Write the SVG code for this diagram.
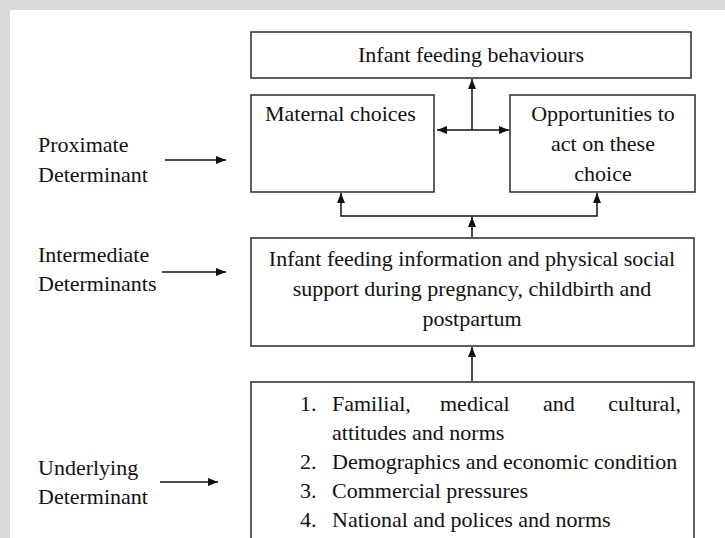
<svg xmlns="http://www.w3.org/2000/svg" width="725" height="538" viewBox="0 0 725 538">
<style>
.bg{fill:#ffffff}
.strip{fill:#d9d9d9}
.box{fill:#ffffff;stroke:#2a2a2a;stroke-width:1.5}
.t{font-family:"Liberation Serif","Times New Roman",serif;font-size:22px;fill:#111}
.c{text-anchor:middle}
.e{text-anchor:end}
.ln{stroke:#111;stroke-width:1.5;fill:none}
</style>
<defs>
<marker id="ah" viewBox="0 0 10 10" refX="10" refY="5" markerWidth="10" markerHeight="10" markerUnits="userSpaceOnUse" orient="auto-start-reverse">
<path d="M0,1 L10,5 L0,9 Z" fill="#111"/>
</marker>
</defs>
<rect class="bg" x="0" y="0" width="725" height="538"/>
<rect class="strip" x="0" y="0" width="725" height="10"/>
<rect class="strip" x="0" y="0" width="10" height="538"/>

<g id="label-proximate">
<text class="t" x="38" y="152">Proximate</text>
<text class="t" x="38" y="182">Determinant</text>
</g>
<g id="label-intermediate">
<text class="t" x="38" y="262">Intermediate</text>
<text class="t" x="38" y="291">Determinants</text>
</g>
<g id="label-underlying">
<text class="t" x="38" y="475">Underlying</text>
<text class="t" x="38" y="504">Determinant</text>
</g>

<g id="node-behaviours">
<rect class="box" x="251" y="32" width="440" height="46"/>
<text class="t c" x="471" y="62">Infant feeding behaviours</text>
</g>
<g id="node-maternal">
<rect class="box" x="251" y="95" width="183" height="97"/>
<text class="t" x="265" y="121">Maternal choices</text>
</g>
<g id="node-opportunities">
<rect class="box" x="510" y="95" width="185" height="97"/>
<text class="t c" x="603" y="121">Opportunities to</text>
<text class="t c" x="603" y="151">act on these</text>
<text class="t c" x="603" y="181">choice</text>
</g>
<g id="node-information">
<rect class="box" x="251" y="238" width="443" height="108"/>
<text class="t c" x="472" y="266">Infant feeding information and physical social</text>
<text class="t c" x="472" y="296">support during pregnancy, childbirth and</text>
<text class="t c" x="472" y="326">postpartum</text>
</g>
<g id="node-underlying">
<rect class="box" x="251" y="382" width="443" height="170"/>
<text class="t" x="300" y="411">1.</text>
<text class="t" x="332" y="411">Familial,</text>
<text class="t" x="440" y="411">medical</text>
<text class="t" x="543" y="411">and</text>
<text class="t e" x="681" y="411">cultural,</text>
<text class="t" x="332" y="440">attitudes and norms</text>
<text class="t" x="300" y="469">2.</text>
<text class="t" x="332" y="469">Demographics and economic condition</text>
<text class="t" x="300" y="498">3.</text>
<text class="t" x="332" y="498">Commercial pressures</text>
<text class="t" x="300" y="527">4.</text>
<text class="t" x="332" y="527">National and polices and norms</text>
</g>

<g id="connectors">
<line class="ln" x1="165" y1="160" x2="226" y2="160" marker-end="url(#ah)"/>
<line class="ln" x1="162" y1="272" x2="226" y2="272" marker-end="url(#ah)"/>
<line class="ln" x1="160" y1="482" x2="218" y2="482" marker-end="url(#ah)"/>
<line class="ln" x1="437" y1="130" x2="509" y2="130" marker-start="url(#ah)" marker-end="url(#ah)"/>
<line class="ln" x1="472" y1="130" x2="472" y2="79" marker-end="url(#ah)"/>
<polyline class="ln" points="341,193 341,216 597,216 597,193" marker-start="url(#ah)" marker-end="url(#ah)"/>
<line class="ln" x1="472" y1="237" x2="472" y2="217" marker-end="url(#ah)"/>
<line class="ln" x1="472" y1="381" x2="472" y2="347" marker-end="url(#ah)"/>
</g>
</svg>
